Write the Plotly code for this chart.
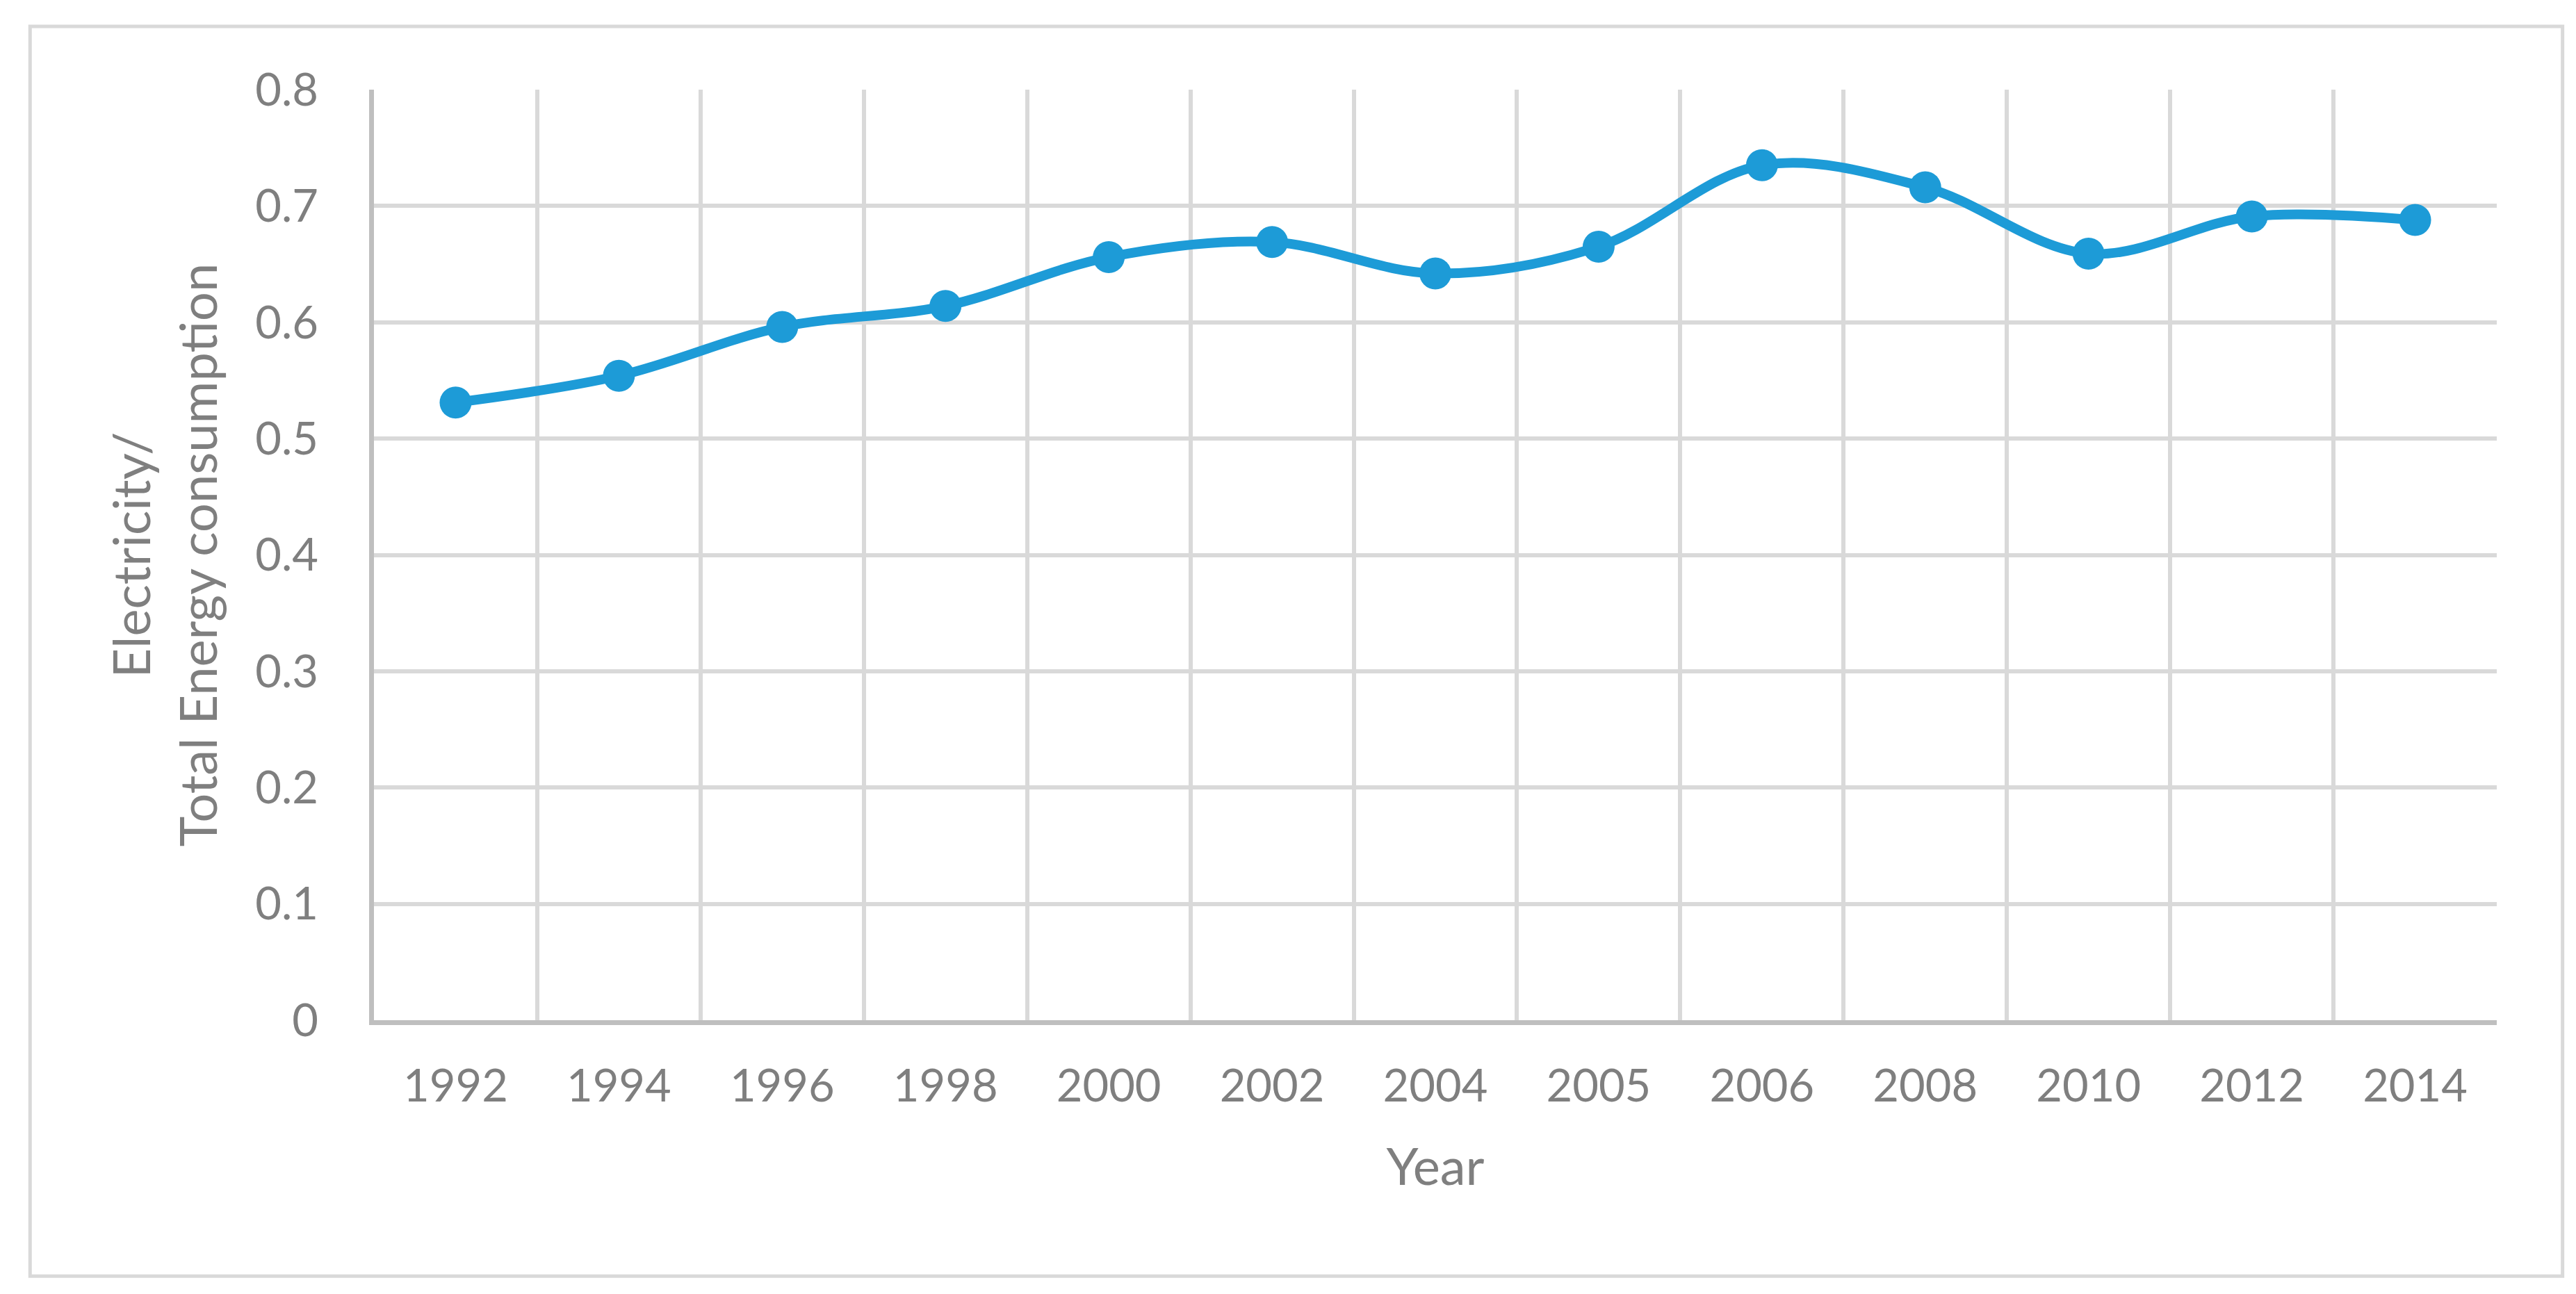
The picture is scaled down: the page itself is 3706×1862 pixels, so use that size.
import plotly.graph_objects as go

years = ["1992", "1994", "1996", "1998", "2000", "2002", "2004",
         "2005", "2006", "2008", "2010", "2012", "2014"]
ratio = [0.531, 0.554, 0.596, 0.614, 0.656, 0.669, 0.642,
         0.665, 0.735, 0.716, 0.659, 0.691, 0.688]
y_ticks = [0, 0.1, 0.2, 0.3, 0.4, 0.5, 0.6, 0.7, 0.8]
y_tick_text = ["0", "0.1", "0.2", "0.3", "0.4", "0.5", "0.6", "0.7", "0.8"]

blue = "#1D9BD7"
grey_text = "#7F7F7F"
grid = "#D9D9D9"

fig = go.Figure()
fig.add_trace(go.Scatter(
    x=years, y=ratio, mode="lines+markers",
    line=dict(color=blue, width=14, shape="spline", smoothing=1),
    marker=dict(color=blue, size=46),
    showlegend=False,
))

fig.update_layout(
    width=3706, height=1862,
    margin=dict(l=530, r=122, t=121, b=402),
    paper_bgcolor="white", plot_bgcolor="white",
    font=dict(family="Lato", color=grey_text, size=65),
    xaxis=dict(
        type="category", tickson="boundaries", range=[-0.5, 12.5],
        showgrid=True, gridcolor=grid, gridwidth=6,
        showline=True, linecolor="#BFBFBF", linewidth=7,
        ticks="", ticklabelstandoff=32,
        tickfont=dict(size=65, color=grey_text),
        title=dict(text="Year", font=dict(size=74, color=grey_text), standoff=58),
    ),
    yaxis=dict(
        range=[0, 0.8], tickvals=y_ticks, ticktext=y_tick_text,
        showgrid=True, gridcolor=grid, gridwidth=6, zeroline=False,
        showline=True, linecolor="#BFBFBF", linewidth=7,
        ticks="", ticklabelstandoff=60,
        tickfont=dict(size=65, color=grey_text),
        title=dict(text="Electricity/<br>Total Energy consumption",
                   font=dict(size=74, color=grey_text), standoff=33),
    ),
)

# outer chart border
fig.add_shape(type="rect", xref="paper", yref="paper",
              x0=-0.162, x1=1.031, y0=-0.275, y1=1.068,
              line=dict(color=grid, width=5), fillcolor="rgba(0,0,0,0)", layer="below")

fig.write_html("out.html")
